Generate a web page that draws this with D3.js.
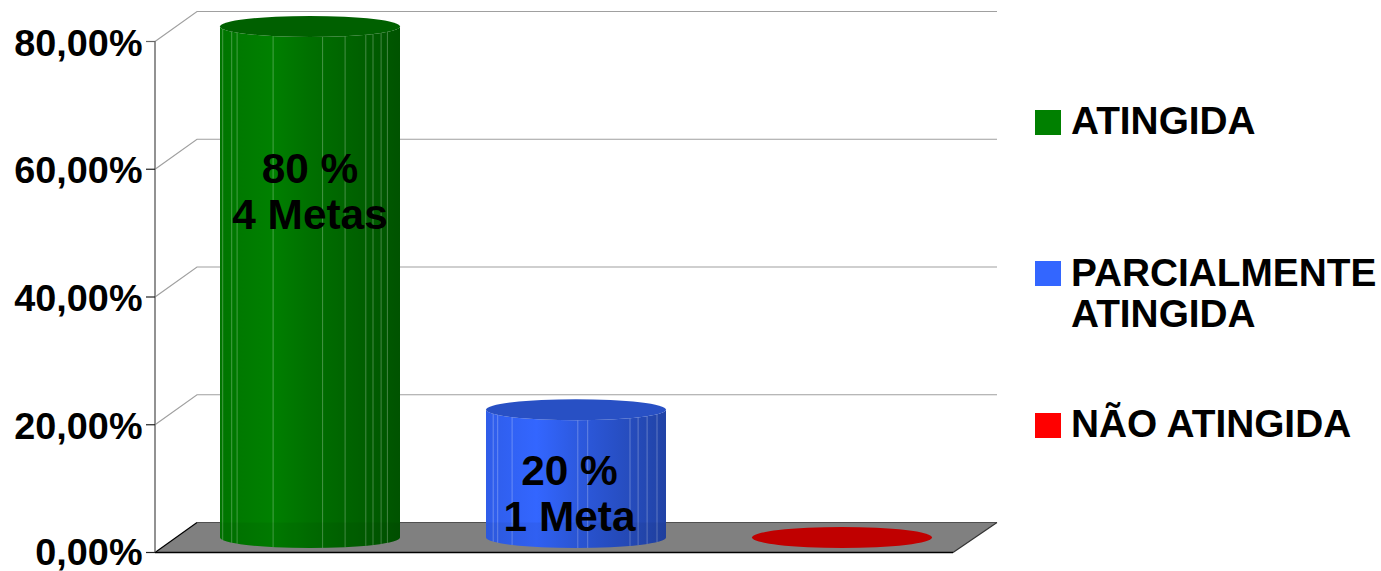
<!DOCTYPE html>
<html><head><meta charset="utf-8">
<script src="https://cdn.jsdelivr.net/npm/d3@7"></script>
<style>html,body{margin:0;background:#fff}svg{display:block}text{font-family:"Liberation Sans",Arial,sans-serif;font-weight:bold;fill:#000}</style>
</head><body><svg id="c" width="1381" height="571"></svg>
<script>
const categories = ["ATINGIDA", "PARCIALMENTE ATINGIDA", "NÃO ATINGIDA"];
const values = [80, 20, 0];
const barLabels = [["80 %", "4 Metas"], ["20 %", "1 Meta"], []];
const yTicks = [0, 20, 40, 60, 80];
const tickLabels = ["0,00%", "20,00%", "40,00%", "60,00%", "80,00%"];
const legendLines = [["ATINGIDA"], ["PARCIALMENTE", "ATINGIDA"], ["NÃO ATINGIDA"]];
const bright = ["#008000", "#3366ff", "#ff0000"];
const dark = ["#005300", "#2143a6", "#a60000"];
const topCol = ["#006000", "#2850c4", "#c00000"];
// thin facet highlights on each cylinder (offset from centre, fraction of radius)
const facets = [
  [-.97,-.87,-.81,-.41,.14,.39,.62,.70,.79,.86],
  [-.92,-.87,-.71,.02,.13,.60,.69,.79,.90],
  []
];

const svg = d3.select("#c");
const DX = 42, DY = 30;
const x0 = 155, yFront = d3.scaleLinear().domain([0,80]).range([552.5,41.5]);
const x = d3.scaleBand().domain(categories).range([177, 975]);
const yMid = v => yFront(v) - 15;
const yBack = v => yFront(v) - DY;
const RX = 90, RY = 10.5;

// walls
svg.append("g").selectAll("path").data(yTicks.filter(t=>t>0)).join("path")
  .attr("d", t=>`M${x0},${yFront(t)}L${x0+DX},${yBack(t)}H997`)
  .attr("fill","none").attr("stroke","#a0a0a0").attr("stroke-width",1.2);
// floor
svg.append("path").attr("d",`M${x0},552.5L${x0+DX},522.5H997L953,552.5Z`).attr("fill","#808080");
svg.append("path").attr("d",`M${x0},552.5L${x0+DX},522.5`).attr("stroke","#000").attr("stroke-width",1.2);
svg.append("path").attr("d",`M${x0+DX},522.5H997`).attr("stroke","#505050").attr("stroke-width",1.2);
svg.append("path").attr("d",`M953,552.5L997,522.5`).attr("stroke","#333").attr("stroke-width",1.2);
// axis
svg.append("path").attr("d",`M${x0},41V552`).attr("stroke","#777").attr("stroke-width",1.6);
svg.append("g").selectAll("path").data(yTicks).join("path")
  .attr("d",t=>`M${x0-9},${yFront(t)}H${x0}`).attr("stroke",t=>t==80?"#666":"#222").attr("stroke-width",1.2);
svg.append("path").attr("d",`M${x0},552.5H953`).attr("stroke","#000").attr("stroke-width",1.4);
svg.append("g").selectAll("text").data(yTicks).join("text")
  .attr("x",142.5).attr("y",t=>yFront(t)+(t?14:12.5)).attr("text-anchor","end").attr("font-size",37.8)
  .text((t,i)=>tickLabels[i]);

// cylinders
const defs = svg.append("defs");
categories.forEach((c,i)=>{
  const g = defs.append("linearGradient").attr("id","g"+i);
  [[0,d3.interpolateRgb(bright[i],dark[i])(.25)],[.28,bright[i]],[.5,d3.interpolateRgb(bright[i],dark[i])(.35)],[1,dark[i]]]
    .forEach(s=>g.append("stop").attr("offset",s[0]).attr("stop-color",s[1]));
  const cx = x(c)+x.bandwidth()/2;
  const top = yMid(values[i]), bot = yMid(0);
  const G = svg.append("g");
  if(values[i]>0){
    const body = `M${cx-RX},${top}V${bot}A${RX},${RY} 0 0 0 ${cx+RX},${bot}V${top}A${RX},${RY} 0 0 1 ${cx-RX},${top}Z`;
    G.append("path").attr("d",body).attr("fill",`url(#g${i})`);
    G.append("g").selectAll("line").data(facets[i]).join("line")
      .attr("x1",f=>cx+f*RX).attr("x2",f=>cx+f*RX)
      .attr("y1",f=>top+RY*Math.sqrt(1-f*f)).attr("y2",f=>bot+RY*Math.sqrt(1-f*f))
      .attr("stroke","#fff").attr("stroke-opacity",.28).attr("stroke-width",1);
    G.append("path").attr("d",`M${cx-RX},522.5V${bot}A${RX},${RY} 0 0 0 ${cx+RX},${bot}V522.5Z`).attr("fill","#000").attr("opacity",.05);
  }
  G.append("ellipse").attr("cx",cx).attr("cy",top).attr("rx",RX).attr("ry",RY).attr("fill",topCol[i]);
  const ty = [183,485];
  G.append("g").selectAll("text").data(barLabels[i]).join("text")
    .attr("x",cx-(i?6.5:0)).attr("y",(d,k)=>ty[i]+k*46).attr("text-anchor","middle").attr("font-size",42.4).text(d=>d);
});

// legend
const legTop = [110,261,413], legBase=[134,286,437];
categories.forEach((c,i)=>{
  svg.append("rect").attr("x",1035).attr("y",legTop[i]).attr("width",26).attr("height",25).attr("fill",bright[i]);
  svg.append("g").selectAll("text").data(legendLines[i]).join("text")
    .attr("x",1071).attr("y",(d,k)=>legBase[i]+k*41).attr("font-size",38.8).text(d=>d);
});
</script></body></html>
